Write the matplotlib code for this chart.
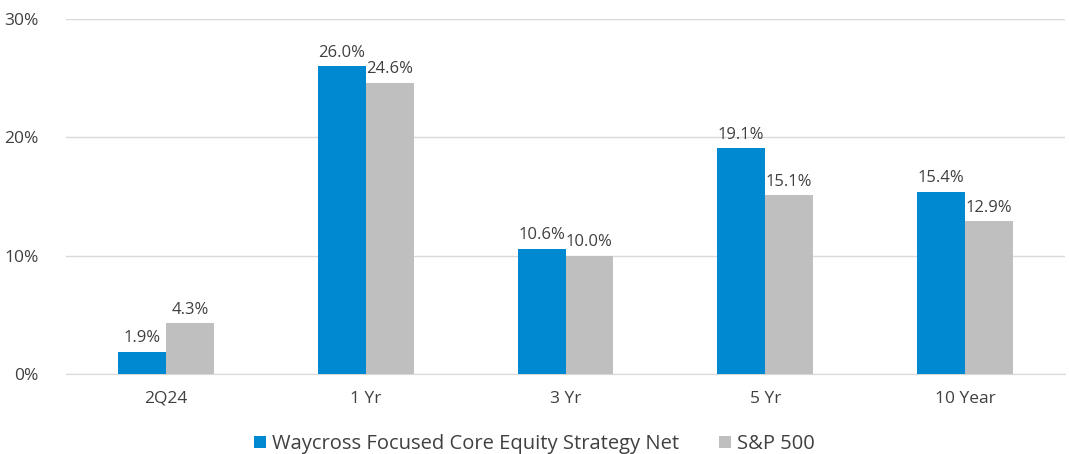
import numpy as np
import matplotlib.pyplot as plt

plt.rcParams['font.family'] = ['Open Sans', 'DejaVu Sans']

# Data
categories = ["2Q24", "1 Yr", "3 Yr", "5 Yr", "10 Year"]
waycross = [1.9, 26.0, 10.6, 19.1, 15.4]
sp500 = [4.3, 24.6, 10.0, 15.1, 12.9]
series_names = ["Waycross Focused Core Equity Strategy Net", "S&P 500"]

blue = '#0089D1'
gray = '#BFBFBF'
text_color = '#404040'

fig = plt.figure(figsize=(10.69, 4.54), dpi=100)
ax = fig.add_axes([0.062, 0.176, 0.934, 0.782])

x = np.arange(len(categories))
w = 0.24
b1 = ax.bar(x - w / 2, waycross, w, color=blue, label=series_names[0], zorder=3)
b2 = ax.bar(x + w / 2, sp500, w, color=gray, label=series_names[1], zorder=3)

for bars in (b1, b2):
    for rect in bars:
        h = rect.get_height()
        ax.annotate(f"{h:.1f}%", (rect.get_x() + rect.get_width() / 2, h),
                    xytext=(0, 4), textcoords='offset points',
                    ha='center', va='bottom', fontsize=12, color=text_color)

ax.set_xlim(-0.5, len(categories) - 0.5)
ax.set_ylim(0, 30)
ax.set_yticks([0, 10, 20, 30])
ax.set_yticklabels([f"{t}%" for t in [0, 10, 20, 30]])
ax.set_xticks(x)
ax.set_xticklabels(categories)
ax.tick_params(axis='both', length=0, labelsize=12.5, labelcolor=text_color)
ax.tick_params(axis='x', pad=12)
ax.tick_params(axis='y', pad=20)
ax.grid(axis='y', color='#D9D9D9', linewidth=1, zorder=0)
for s in ['top', 'right', 'left']:
    ax.spines[s].set_visible(False)
ax.spines['bottom'].set_color('#D9D9D9')

fig.legend(loc='lower center', bbox_to_anchor=(0.5, -0.04), ncol=2, frameon=False,
           fontsize=14.5, handlelength=0.6, handleheight=0.6, columnspacing=2.0,
           handletextpad=0.3, labelcolor=text_color)

fig.savefig("out.png", dpi=100)
